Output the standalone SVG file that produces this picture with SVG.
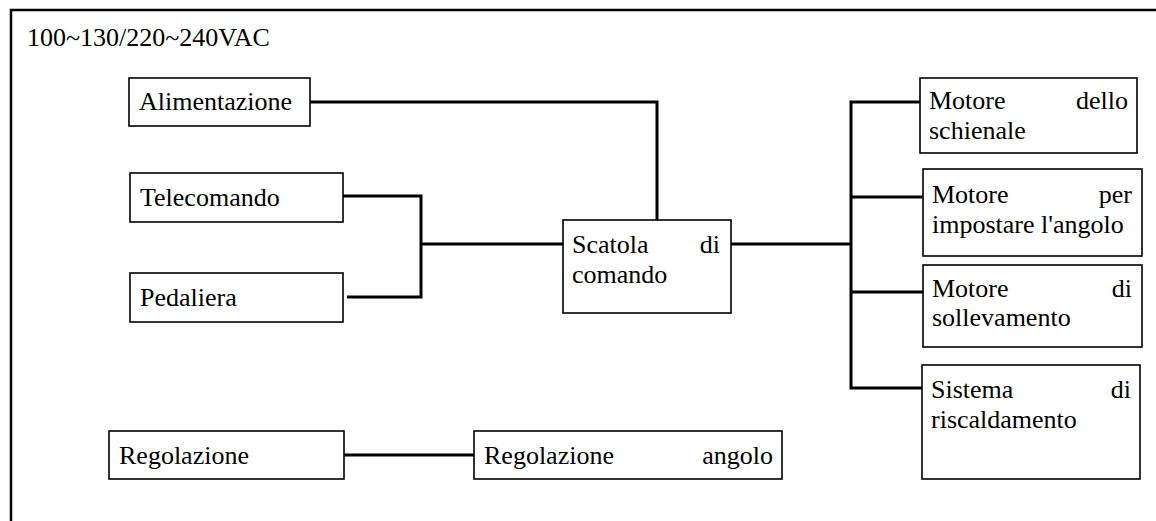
<svg xmlns="http://www.w3.org/2000/svg" width="1156" height="521" viewBox="0 0 1156 521">
<style>
.box{fill:#fff;stroke:#000;stroke-width:1.6}
.t{font-size:26px;fill:#000}
.e{text-anchor:end}
.c{fill:none;stroke:#000;stroke-width:3}
</style>
<rect width="1156" height="521" fill="#fff"/>
<g font-family="Liberation Serif, Times New Roman, DejaVu Serif, serif">
<g id="frame">
<path d="M11,521 V10 H1156" fill="none" stroke="#000" stroke-width="2.5"/>
<text class="t" x="27" y="46">100~130/220~240VAC</text>
</g>
<g id="connectors">
<path class="c" d="M310,102 H657 V220"/>
<path class="c" d="M343,196 H421 V297 H347"/>
<path class="c" d="M421,244 H563"/>
<path class="c" d="M731,244 H851"/>
<path class="c" d="M920,102 H851 V388 H922"/>
<path class="c" d="M851,197 H923"/>
<path class="c" d="M851,292 H923"/>
<path class="c" d="M344,455 H474"/>
</g>
<g id="alimentazione">
<rect class="box" x="129" y="78" width="181" height="48"/>
<text class="t" x="139" y="110">Alimentazione</text>
</g>
<g id="telecomando">
<rect class="box" x="130" y="173" width="213" height="49"/>
<text class="t" x="140" y="206">Telecomando</text>
</g>
<g id="pedaliera">
<rect class="box" x="130" y="273" width="213" height="49"/>
<text class="t" x="140" y="306">Pedaliera</text>
</g>
<g id="scatola">
<rect class="box" x="563" y="220" width="168" height="93"/>
<text class="t" x="572" y="253">Scatola</text>
<text class="t e" x="720" y="253">di</text>
<text class="t" x="572" y="283">comando</text>
</g>
<g id="motore-schienale">
<rect class="box" x="920" y="78" width="217" height="75"/>
<text class="t" x="929" y="109">Motore</text>
<text class="t e" x="1128" y="109">dello</text>
<text class="t" x="929" y="139">schienale</text>
</g>
<g id="motore-angolo">
<rect class="box" x="923" y="169" width="219" height="87"/>
<text class="t" x="932" y="203">Motore</text>
<text class="t e" x="1132" y="203">per</text>
<text class="t" x="932" y="233">impostare l'angolo</text>
</g>
<g id="motore-sollevamento">
<rect class="box" x="923" y="265" width="219" height="82"/>
<text class="t" x="932" y="297">Motore</text>
<text class="t e" x="1132" y="297">di</text>
<text class="t" x="932" y="326">sollevamento</text>
</g>
<g id="sistema-riscaldamento">
<rect class="box" x="922" y="365" width="218" height="114"/>
<text class="t" x="931" y="398">Sistema</text>
<text class="t e" x="1131" y="398">di</text>
<text class="t" x="931" y="428">riscaldamento</text>
</g>
<g id="regolazione">
<rect class="box" x="109" y="431" width="235" height="48"/>
<text class="t" x="119" y="464">Regolazione</text>
</g>
<g id="regolazione-angolo">
<rect class="box" x="474" y="431" width="308" height="48"/>
<text class="t" x="484" y="464">Regolazione</text>
<text class="t e" x="773" y="464">angolo</text>
</g>
</g>
</svg>
